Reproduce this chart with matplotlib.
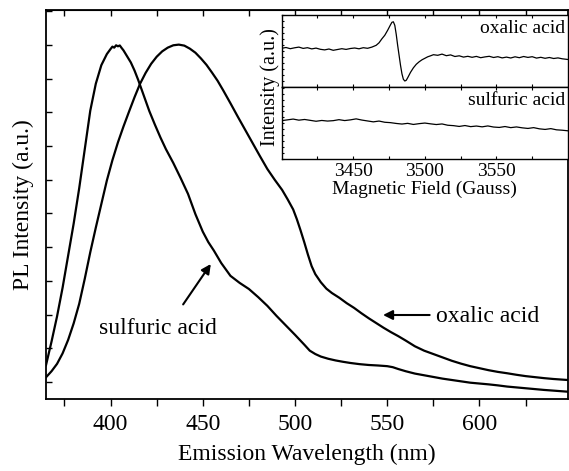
import matplotlib
matplotlib.use("Agg")
import matplotlib.pyplot as plt
from matplotlib.ticker import MultipleLocator, NullFormatter, FixedLocator

plt.rcParams['font.family'] = ['Liberation Serif', 'DejaVu Serif']
plt.rcParams['mathtext.fontset'] = 'stix'

# ---------------- main PL spectra (arbitrary units) ----------------
sulf_wl = [365, 368, 371, 374, 377, 380, 383, 386, 389, 392, 395, 398, 400, 401, 402, 403,
           404, 405, 406, 407, 409, 411, 413, 415, 418, 421, 424, 427, 430, 434, 438, 442,
           446, 450, 453, 456, 460, 465, 470, 475, 480, 485, 490, 495, 500, 505, 508, 511,
           514, 518, 522, 526, 530, 535, 540, 545, 550, 553, 556, 560, 565, 570, 575, 580,
           585, 590, 595, 600, 605, 610, 615, 620, 625, 630, 635, 640, 648]
sulf_I = [500, 1200, 1950, 2800, 3750, 4700, 5750, 6900, 8050, 8850, 9400, 9730, 9880, 9950, 9920, 9990,
          9960, 9985, 9910, 9840, 9660, 9480, 9240, 8960, 8500, 8040, 7640, 7260, 6910, 6500, 6050, 5580,
          4980, 4460, 4150, 3900, 3530, 3150, 2940, 2760, 2520, 2260, 1960, 1680, 1400, 1110, 930, 830,
          755, 690, 640, 600, 565, 530, 505, 490, 470, 440, 385, 320, 250, 200, 150, 100,
          60, 20, -20, -45, -70, -100, -135, -160, -185, -210, -235, -255, -288]

oxa_wl = [365, 368, 371, 374, 377, 380, 383, 386, 389, 392, 395, 398, 401, 404, 407, 410,
          413, 416, 419, 422, 425, 428, 431, 434, 437, 440, 443, 446, 449, 452, 455, 458,
          461, 465, 469, 473, 477, 481, 485, 489, 493, 496, 499, 501, 503, 505, 507, 509,
          511, 514, 517, 520, 524, 528, 532, 536, 540, 544, 548, 552, 556, 560, 565, 570,
          575, 580, 585, 590, 595, 600, 605, 610, 615, 620, 625, 630, 635, 640, 648]
oxa_I = [140, 320, 540, 850, 1250, 1740, 2320, 3060, 3850, 4580, 5280, 5980, 6580, 7110, 7580, 8020,
         8450, 8850, 9170, 9440, 9650, 9810, 9920, 9990, 10010, 9980, 9890, 9770, 9600, 9410, 9180, 8940,
         8660, 8270, 7870, 7480, 7090, 6700, 6320, 6000, 5700, 5420, 5120, 4830, 4500, 4150, 3780, 3440,
         3200, 2960, 2770, 2640, 2500, 2340, 2200, 2040, 1890, 1750, 1610, 1480, 1360, 1230, 1060, 930,
         830, 730, 630, 545, 470, 410, 350, 300, 260, 215, 175, 145, 115, 90, 59]

# ---------------- inset EPR spectra ----------------
epr_ox_B = [3400, 3403, 3406, 3409, 3412, 3415, 3418, 3421, 3424, 3427, 3430, 3433, 3436, 3439,
            3442, 3445, 3448, 3451, 3454, 3457, 3460, 3463, 3466, 3468, 3470, 3472, 3474, 3476,
            3477, 3478, 3479, 3480, 3481, 3482, 3483, 3484, 3485, 3486, 3487, 3488, 3490, 3492,
            3494, 3496, 3498, 3500, 3502, 3504, 3506, 3509, 3512, 3515, 3518, 3521, 3524, 3527,
            3530, 3533, 3536, 3539, 3542, 3545, 3548, 3551, 3554, 3557, 3560, 3563, 3566, 3569,
            3572, 3575, 3578, 3581, 3584, 3587, 3590, 3593, 3596, 3600]
epr_ox_I = [39.0, 39.8, 38.6, 39.5, 40.2, 38.9, 39.6, 38.4, 39.2, 38.0, 37.4, 38.3, 37.0, 37.8,
            38.6, 37.9, 38.8, 39.3, 38.5, 39.6, 39.0, 40.2, 42.0, 44.5, 48.5, 52.0, 57.0, 62.5,
            65.0, 65.5, 62.0, 53.0, 42.0, 32.0, 22.0, 13.5, 8.0, 6.3, 7.0, 9.5, 15.0, 19.5,
            23.0, 25.5, 27.5, 29.0, 30.5, 31.5, 32.6, 32.0, 33.2, 31.6, 32.4, 30.8, 31.5, 30.2,
            31.0, 30.0, 30.9, 29.6, 30.4, 31.0, 29.8, 30.6, 29.4, 30.2, 29.3, 30.5, 29.6, 30.8,
            29.9, 30.6, 29.2, 30.0, 29.0, 29.8, 28.8, 29.4, 28.5, 27.8]

epr_su_B = [3400, 3404, 3408, 3412, 3416, 3420, 3424, 3428, 3432, 3436, 3440, 3444, 3448, 3452,
            3456, 3460, 3464, 3468, 3472, 3476, 3480, 3484, 3488, 3492, 3496, 3500, 3504, 3508,
            3512, 3516, 3520, 3524, 3528, 3532, 3536, 3540, 3544, 3548, 3552, 3556, 3560, 3564,
            3568, 3572, 3576, 3580, 3584, 3588, 3592, 3596, 3600]
epr_su_I = [38.8, 39.6, 40.4, 39.3, 40.0, 39.1, 38.2, 39.0, 38.4, 38.8, 39.8, 38.9, 39.6, 40.6,
            39.4, 38.5, 37.6, 38.4, 37.2, 36.8, 36.0, 35.4, 36.1, 35.0, 35.8, 36.4, 35.6, 34.9,
            35.5, 34.2, 33.8, 33.0, 33.9, 32.8, 33.4, 32.6, 33.5, 32.4, 32.0, 32.9, 31.8, 32.5,
            31.6, 31.0, 31.8, 30.6, 30.0, 30.8, 29.6, 29.2, 28.6]

inset_major = [3450, 3500, 3550]
inset_minor = [3425, 3475, 3525, 3575]

W, H = 569, 471
fig = plt.figure(figsize=(W / 100, H / 100), dpi=100)

def fx(px):
    return px / W

def fy(py):
    return 1 - py / H

ax = fig.add_axes([fx(46), fy(399), fx(568) - fx(46), fy(10) - fy(399)])
ax.plot(sulf_wl, sulf_I, color='black', lw=1.6, solid_joinstyle='round')
ax.plot(oxa_wl, oxa_I, color='black', lw=1.6, solid_joinstyle='round')
ax.set_xlim(365, 648)
ax.set_ylim(-504, 11037)
ax.xaxis.set_major_locator(MultipleLocator(50))
ax.xaxis.set_minor_locator(MultipleLocator(25))
ax.yaxis.set_major_locator(MultipleLocator(1000))
ax.yaxis.set_major_formatter(NullFormatter())
ax.tick_params(axis='x', which='both', direction='out', top=False, labelsize=17, length=5, width=1.0, pad=6)
ax.tick_params(axis='y', which='both', direction='in', length=4, width=1.0, right=False)
sec = ax.secondary_xaxis('top')
sec.xaxis.set_major_locator(MultipleLocator(25))
sec.tick_params(which='both', direction='in', length=4, width=1.0, labeltop=False)
for s in ax.spines.values():
    s.set_linewidth(1.3)
ax.set_xlabel('Emission Wavelength (nm)', fontsize=17, labelpad=6)
ax.set_ylabel('PL Intensity (a.u.)', fontsize=17, labelpad=5)

ax.annotate('', xy=(455.2, 3569), xytext=(438.5, 2234),
            arrowprops=dict(arrowstyle='-|>', color='black', lw=1.5, mutation_scale=14))
ax.text(425.7, 1573, 'sulfuric acid', fontsize=17, ha='center', va='center')
ax.annotate('', xy=(546.2, 1988), xytext=(574.5, 1988),
            arrowprops=dict(arrowstyle='-|>', color='black', lw=1.5, mutation_scale=14))
ax.text(576.5, 1958, 'oxalic acid', fontsize=17, ha='left', va='center')

# ---------------- inset ----------------
ax1 = fig.add_axes([fx(281.7), fy(87.3), fx(568) - fx(281.7), fy(15) - fy(87.3)])
ax2 = fig.add_axes([fx(281.7), fy(159.3), fx(568) - fx(281.7), fy(87.3) - fy(159.3)])
ax1.plot(epr_ox_B, epr_ox_I, color='black', lw=0.9)
ax2.plot(epr_su_B, epr_su_I, color='black', lw=0.9)
for a in (ax1, ax2):
    a.set_xlim(3400, 3600)
    a.set_ylim(0, 72.3)
    a.xaxis.set_major_locator(FixedLocator(inset_major))
    a.xaxis.set_minor_locator(FixedLocator(inset_minor))
    a.yaxis.set_major_locator(MultipleLocator(6))
    a.yaxis.set_major_formatter(NullFormatter())
    a.tick_params(axis='both', which='both', direction='in', top=True, bottom=True,
                  length=2.5, width=0.8, labelsize=14)
    a.tick_params(axis='y', length=1.5)
    for s in a.spines.values():
        s.set_linewidth(1.0)
ax1.tick_params(axis='x', labelbottom=False)
ax2.tick_params(axis='x', pad=3)
ax2.set_xlabel('Magnetic Field (Gauss)', fontsize=14, labelpad=0)
ax1.text(0.99, 0.82, 'oxalic acid', transform=ax1.transAxes, fontsize=14, ha='right', va='center')
ax2.text(0.99, 0.82, 'sulfuric acid', transform=ax2.transAxes, fontsize=14, ha='right', va='center')
fig.text(fx(270), fy(87.3), 'Intensity (a.u.)', rotation=90, fontsize=14.5, ha='center', va='center')

fig.savefig('out.png', dpi=100)
